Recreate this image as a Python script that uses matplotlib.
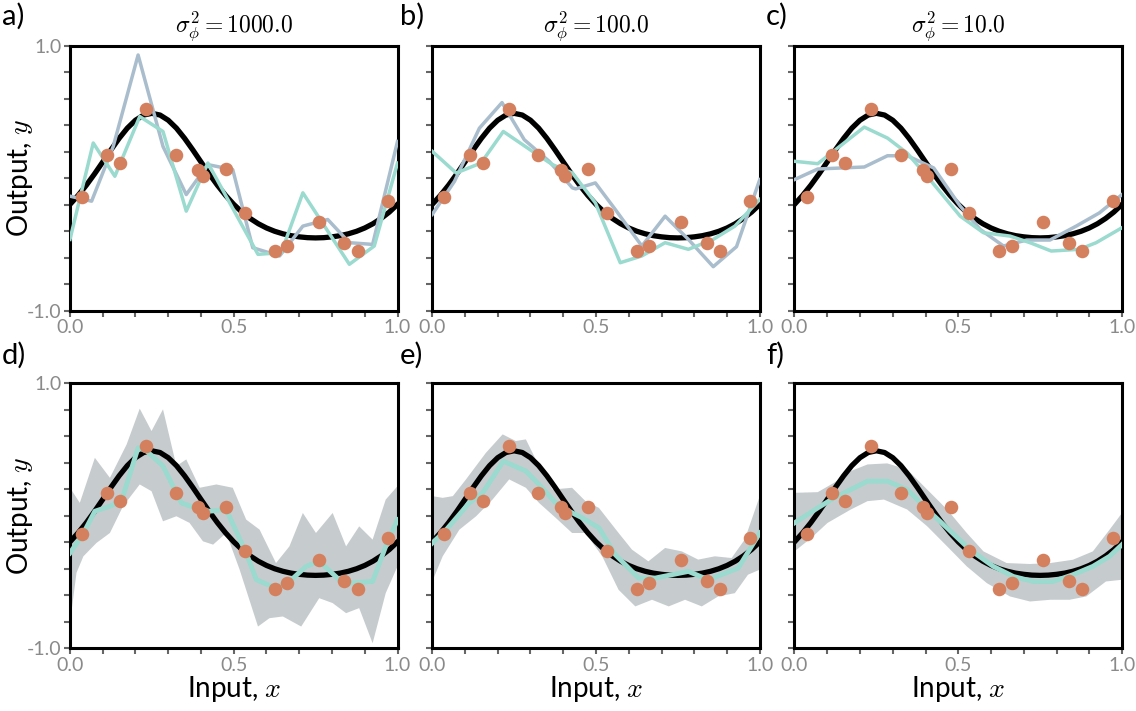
import matplotlib
matplotlib.use("Agg")
import matplotlib.pyplot as plt
import numpy as np

plt.rcParams['font.family'] = ['Lato', 'DejaVu Sans']
plt.rcParams['mathtext.fontset'] = 'cm'

# training data (shared by all panels)
data_x = [0.037, 0.114, 0.154, 0.233, 0.324, 0.392, 0.406, 0.477, 0.533,
          0.625, 0.663, 0.760, 0.838, 0.878, 0.971]
data_y = [-0.14, 0.175, 0.113, 0.524, 0.175, 0.065, 0.02, 0.068, -0.263,
          -0.549, -0.511, -0.331, -0.489, -0.551, -0.168]

# true function
true_x = np.linspace(0, 1, 41)
true_y = [-0.197, -0.129, -0.052, 0.033, 0.123, 0.214, 0.301, 0.378, 0.438, 0.477,
          0.490, 0.477, 0.438, 0.378, 0.301, 0.214, 0.123, 0.033, -0.052, -0.129,
          -0.197, -0.255, -0.303, -0.343, -0.375, -0.400, -0.419, -0.433, -0.442, -0.448,
          -0.450, -0.448, -0.442, -0.433, -0.419, -0.400, -0.375, -0.343, -0.303, -0.255,
          -0.197]

variances = ['1000.0', '100.0', '10.0']

# top row: two sampled networks per panel
a_blue_x = [0, 0.066, 0.132, 0.208, 0.284, 0.355, 0.421, 0.497, 0.558, 0.64, 0.711, 0.787, 0.853, 0.924, 1.0]
a_blue_y = [-0.135, -0.173, 0.24, 0.93, 0.24, -0.123, 0.103, 0.065, -0.524, -0.586, -0.361, -0.311, -0.486, -0.499, 0.278]
a_teal_x = [0, 0.071, 0.137, 0.213, 0.284, 0.355, 0.421, 0.574, 0.645, 0.711, 0.853, 0.929, 1.0]
a_teal_y = [-0.461, 0.266, 0.015, 0.466, 0.353, -0.248, 0.115, -0.574, -0.561, -0.11, -0.649, -0.511, 0.115]

b_blue_x = [0, 0.068, 0.144, 0.213, 0.281, 0.357, 0.428, 0.438, 0.498, 0.559, 0.640, 0.711, 0.782, 0.858, 0.929, 1.0]
b_blue_y = [-0.273, -0.023, 0.378, 0.571, 0.291, 0.128, -0.073, -0.08, -0.035, -0.236, -0.511, -0.286, -0.461, -0.667, -0.516, -0.01]
b_teal_x = [0, 0.073, 0.149, 0.217, 0.306, 0.367, 0.428, 0.498, 0.574, 0.640, 0.711, 0.782, 0.858, 0.924, 1.0]
b_teal_y = [0.203, 0.04, 0.115, 0.353, 0.203, 0.103, 0.04, -0.185, -0.637, -0.586, -0.486, -0.536, -0.461, -0.361, -0.16]

c_blue_x = [0, 0.071, 0.213, 0.284, 0.344, 0.425, 0.506, 0.567, 0.638, 0.709, 0.780, 0.860, 0.931, 1.0]
c_blue_y = [-0.01, 0.07, 0.085, 0.17, 0.17, 0.078, -0.21, -0.386, -0.511, -0.466, -0.466, -0.361, -0.261, -0.123]
c_teal_x = [0, 0.071, 0.213, 0.284, 0.344, 0.405, 0.506, 0.577, 0.658, 0.719, 0.784, 0.870, 0.921, 1.0]
c_teal_y = [0.128, 0.11, 0.386, 0.303, 0.19, 0.015, -0.286, -0.411, -0.436, -0.486, -0.549, -0.536, -0.486, -0.373]

# bottom row: mean and +/- 2 std band
d_mean_x = [0, 0.039, 0.076, 0.122, 0.157, 0.208, 0.234, 0.284, 0.34, 0.396, 0.426, 0.477, 0.538,
            0.569, 0.629, 0.67, 0.721, 0.761, 0.822, 0.853, 0.924, 0.964, 1.0]
d_mean_y = [-0.281, -0.142, 0.034, 0.072, 0.11, 0.513, 0.488, 0.375, 0.097, 0.047, 0.034, 0.047, -0.281,
            -0.483, -0.546, -0.496, -0.382, -0.344, -0.483, -0.508, -0.496, -0.231, -0.029]
d_up_x = [0, 0.03, 0.076, 0.122, 0.173, 0.213, 0.249, 0.284, 0.325, 0.355, 0.396, 0.447, 0.497,
          0.538, 0.579, 0.629, 0.67, 0.711, 0.751, 0.802, 0.843, 0.883, 0.924, 0.964, 1.0]
d_up_y = [0.211, 0.097, 0.437, 0.286, 0.538, 0.808, 0.639, 0.803, 0.375, 0.425, 0.211, 0.236, 0.211,
          -0.029, -0.105, -0.357, -0.231, 0.021, -0.13, 0.021, -0.231, -0.08, -0.18, 0.122, 0.223]
d_lo_x = [0, 0.02, 0.041, 0.081, 0.122, 0.162, 0.213, 0.249, 0.284, 0.325, 0.365, 0.406, 0.437, 0.477,
          0.518, 0.574, 0.609, 0.65, 0.706, 0.761, 0.802, 0.843, 0.883, 0.924, 0.964, 1.0]
d_lo_y = [-0.81, -0.43, -0.306, -0.205, -0.13, 0.072, 0.236, 0.185, -0.042, -0.004, -0.054, -0.193, -0.218, -0.13,
          -0.407, -0.836, -0.773, -0.76, -0.836, -0.622, -0.659, -0.735, -0.697, -0.962, -0.584, -0.382]

e_mean_x = [0, 0.043, 0.113, 0.154, 0.217, 0.286, 0.326, 0.377, 0.407, 0.458, 0.509, 0.559,
            0.63, 0.681, 0.782, 0.843, 0.934, 1.0]
e_mean_y = [-0.206, -0.105, 0.097, 0.173, 0.412, 0.337, 0.236, 0.097, 0.047, -0.016, -0.092, -0.294,
            -0.47, -0.47, -0.42, -0.483, -0.395, -0.13]
e_up_x = [0, 0.032, 0.063, 0.103, 0.164, 0.215, 0.255, 0.286, 0.326, 0.367, 0.427, 0.468, 0.509,
          0.569, 0.61, 0.66, 0.711, 0.762, 0.812, 0.863, 0.914, 0.954, 1.0]
e_up_y = [0.148, 0.135, 0.148, 0.274, 0.475, 0.614, 0.564, 0.576, 0.375, 0.198, 0.211, 0.11, 0.059,
          -0.13, -0.256, -0.344, -0.243, -0.269, -0.331, -0.306, -0.319, -0.18, 0.148]
e_lo_x = [0, 0.032, 0.083, 0.134, 0.184, 0.235, 0.286, 0.326, 0.377, 0.427, 0.468, 0.519, 0.569,
          0.62, 0.671, 0.722, 0.772, 0.823, 0.873, 0.924, 0.964, 1.0]
e_lo_y = [-0.496, -0.306, -0.105, -0.004, 0.122, 0.274, 0.211, 0.097, -0.016, -0.13, -0.13, -0.306, -0.559,
          -0.684, -0.634, -0.684, -0.634, -0.684, -0.609, -0.584, -0.445, -0.407]

f_mean_x = [0, 0.071, 0.121, 0.172, 0.223, 0.283, 0.344, 0.405, 0.466, 0.536, 0.607, 0.668,
            0.729, 0.789, 0.850, 0.911, 0.962, 1.0]
f_mean_y = [-0.054, 0.059, 0.135, 0.198, 0.261, 0.261, 0.198, 0.047, -0.092, -0.256, -0.382, -0.458,
            -0.496, -0.496, -0.445, -0.382, -0.306, -0.218]
f_up_x = [0, 0.071, 0.121, 0.172, 0.223, 0.283, 0.344, 0.405, 0.466, 0.526, 0.577, 0.648,
          0.719, 0.781, 0.85, 0.911, 0.962, 1.0]
f_up_y = [0.173, 0.178, 0.249, 0.337, 0.387, 0.395, 0.349, 0.198, 0.047, -0.13, -0.269, -0.357,
          -0.364, -0.357, -0.332, -0.269, -0.105, 0.021]
f_lo_x = [0, 0.051, 0.101, 0.172, 0.223, 0.273, 0.344, 0.405, 0.466, 0.526, 0.587, 0.658,
          0.719, 0.781, 0.84, 0.891, 0.951, 1.0]
f_lo_y = [-0.269, -0.168, -0.054, 0.047, 0.11, 0.122, 0.047, -0.079, -0.231, -0.382, -0.508, -0.609,
          -0.647, -0.634, -0.634, -0.609, -0.496, -0.483]

top_samples = [((a_blue_x, a_blue_y), (a_teal_x, a_teal_y)),
               ((b_blue_x, b_blue_y), (b_teal_x, b_teal_y)),
               ((c_blue_x, c_blue_y), (c_teal_x, c_teal_y))]
bottom_fits = [(d_mean_x, d_mean_y, d_up_x, d_up_y, d_lo_x, d_lo_y),
               (e_mean_x, e_mean_y, e_up_x, e_up_y, e_lo_x, e_lo_y),
               (f_mean_x, f_mean_y, f_up_x, f_up_y, f_lo_x, f_lo_y)]

orange = '#D4805F'
blue = '#A9BDCD'
teal = '#9ADACF'
band = '#C6CCCE'
grey = '#8a8a8a'

fig, axes = plt.subplots(2, 3, figsize=(11.36, 7.11), dpi=100)
fig.subplots_adjust(left=0.0616, right=0.9877, top=0.9357, bottom=0.0882, wspace=0.106, hspace=0.273)


def style(ax, row, col):
    ax.set_xlim(0, 1)
    ax.set_ylim(-1, 1)
    ax.set_xticks(np.linspace(0, 1, 11))
    ax.set_xticklabels(['0.0', '', '', '', '', '0.5', '', '', '', '', '1.0'])
    ax.set_yticks(np.linspace(-1, 1, 11))
    if col == 0:
        ax.set_yticklabels(['-1.0'] + [''] * 9 + ['1.0'])
        ax.set_ylabel('Output, $y$', fontsize=20, labelpad=-6)
    else:
        ax.set_yticklabels([])
    if row == 1:
        ax.set_xlabel('Input, $x$', fontsize=20, labelpad=0)
    ax.tick_params(direction='out', length=4, width=1.5, color='#666666',
                   labelcolor=grey, labelsize=14, pad=2)
    for s in ax.spines.values():
        s.set_linewidth(2.2)


for col in range(3):
    ax = axes[0, col]
    (bx, by), (tx, ty) = top_samples[col]
    ax.plot(true_x, true_y, color='black', lw=3.8, zorder=2)
    ax.plot(bx, by, color=blue, lw=2.5, zorder=3)
    ax.plot(tx, ty, color=teal, lw=2.5, zorder=4)
    ax.scatter(data_x, data_y, s=95, color=orange, zorder=5, linewidths=0)
    ax.set_title(r'$\sigma^2_\phi = %s$' % variances[col], fontsize=17, pad=10)
    style(ax, 0, col)

for col in range(3):
    ax = axes[1, col]
    mx, my, ux, uy, lx, ly = bottom_fits[col]
    ax.fill(np.concatenate([ux, lx[::-1]]), np.concatenate([uy, ly[::-1]]),
            color=band, lw=0, zorder=1)
    ax.plot(true_x, true_y, color='black', lw=3.8, zorder=2)
    ax.plot(mx, my, color=teal, lw=3.5, zorder=3)
    ax.scatter(data_x, data_y, s=95, color=orange, zorder=5, linewidths=0)
    style(ax, 1, col)

letters = ['a)', 'b)', 'c)', 'd)', 'e)', 'f)']
lx_px = [2, 400, 766]
for i, lab in enumerate(letters):
    row, col = divmod(i, 3)
    ytop = 3 if row == 0 else 342
    fig.text(lx_px[col] / 1136, 1 - ytop / 711, lab, fontsize=21, va='top', ha='left')

fig.savefig('out.png', dpi=100)
